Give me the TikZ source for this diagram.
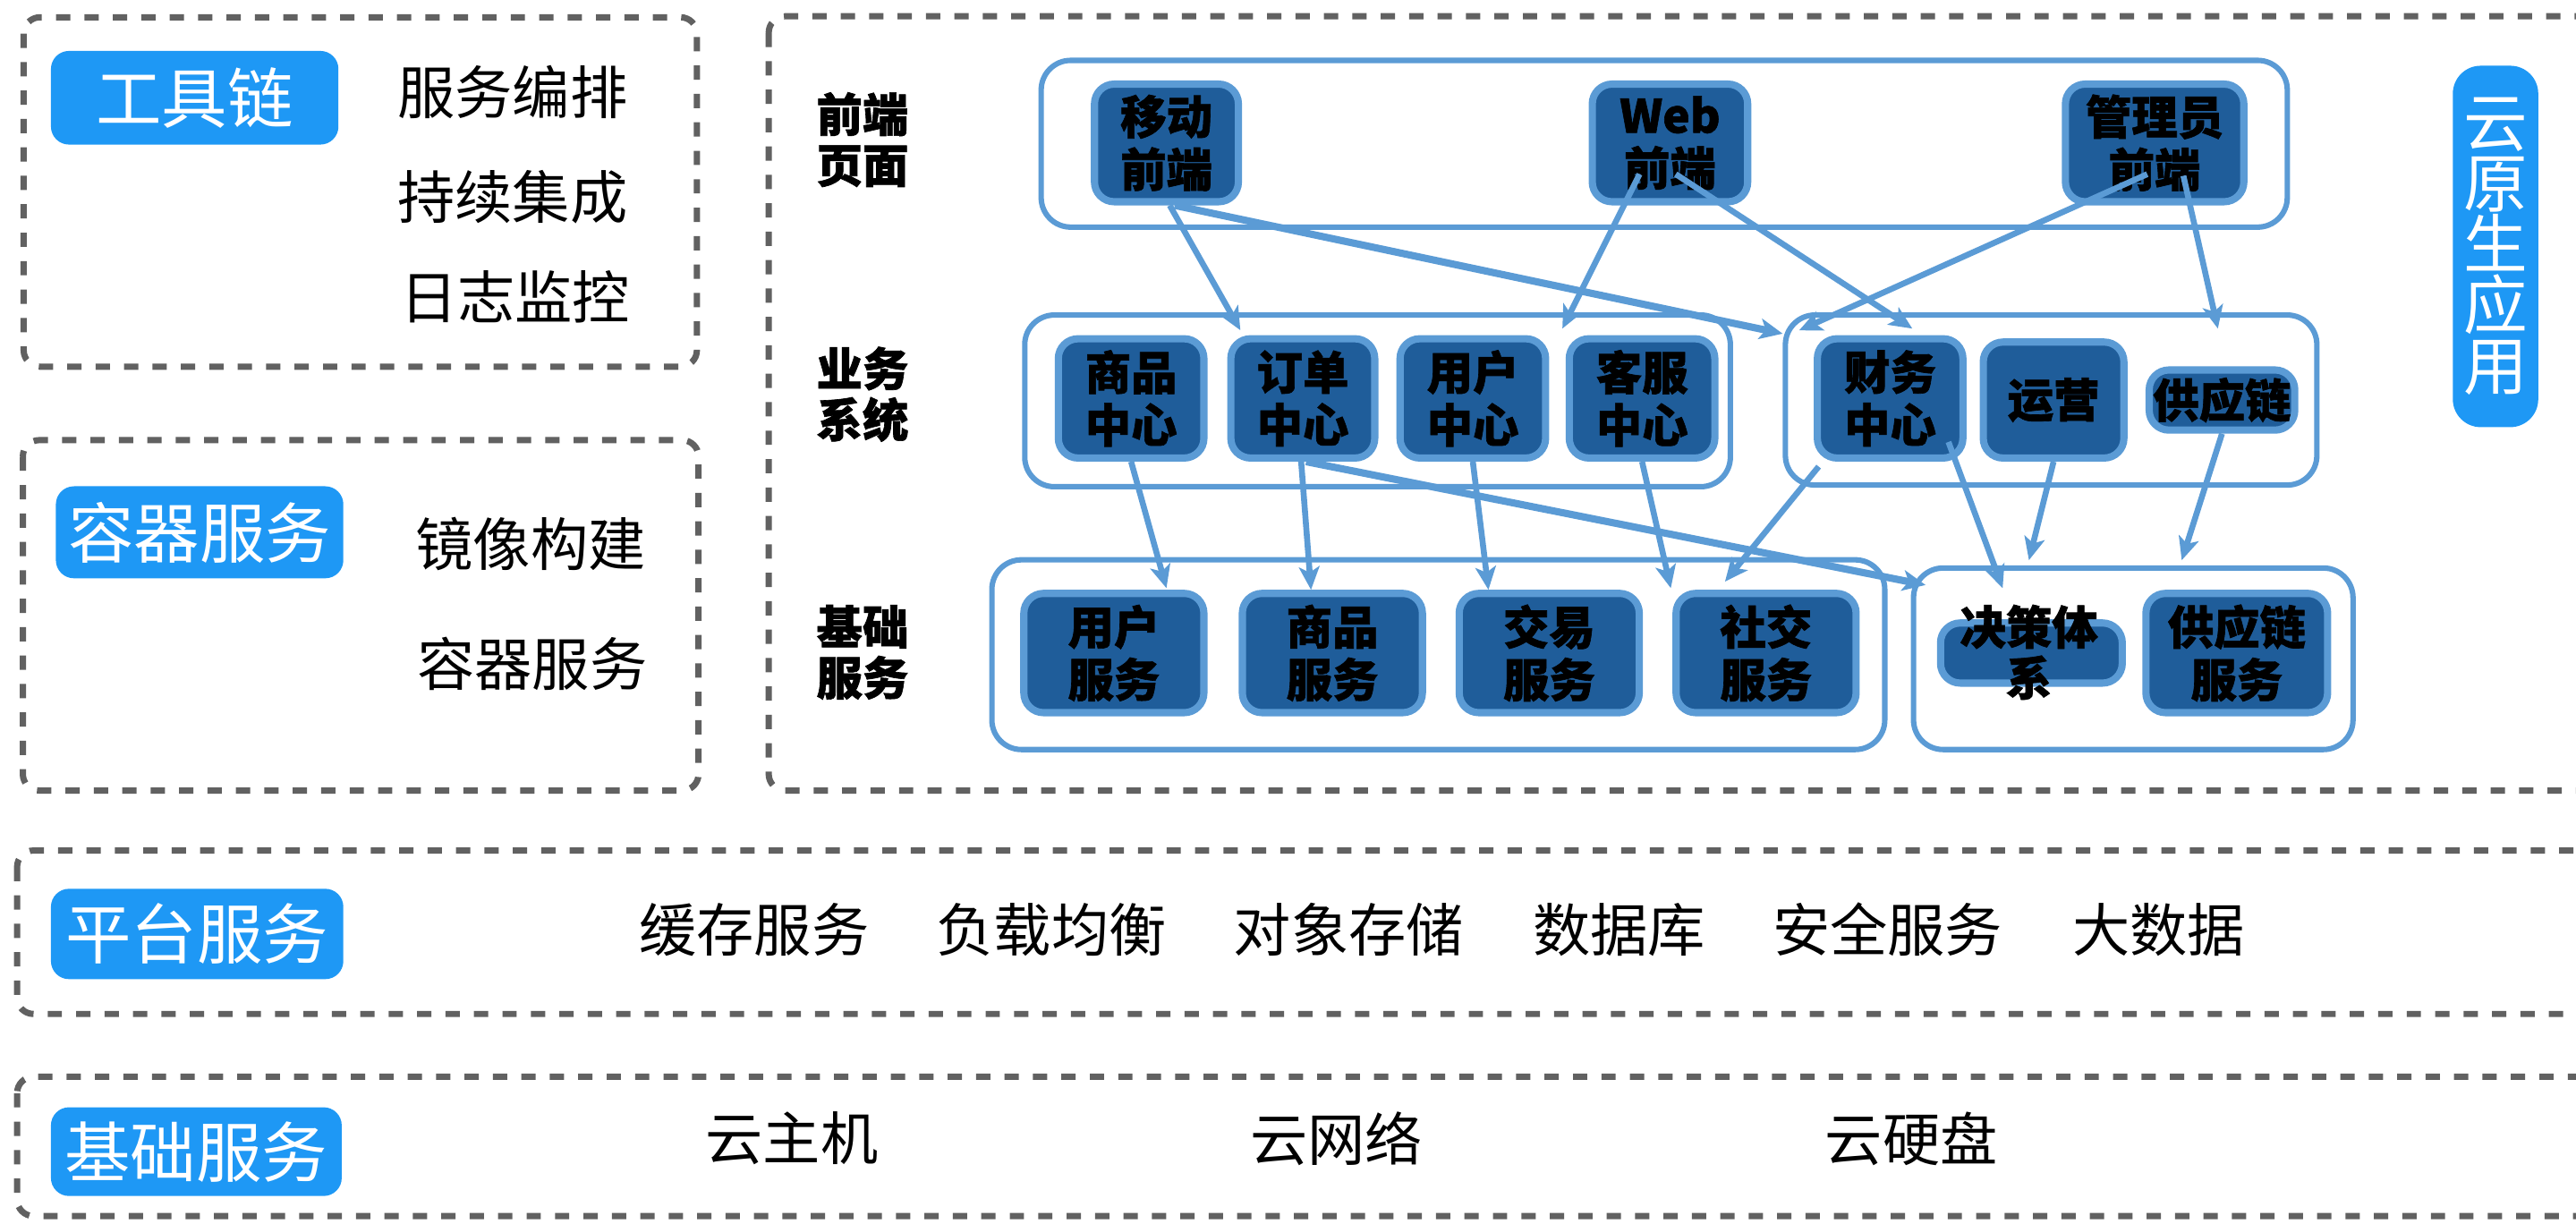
\documentclass[tikz,border=0pt]{standalone}
\usepackage{fontspec}
\setmainfont{Noto Sans CJK SC}[BoldFeatures={FakeBold=1.2}]
\usetikzlibrary{arrows.meta,calc}
\definecolor{lb}{HTML}{5B9BD5}
\definecolor{db}{HTML}{1F5D9A}
\definecolor{tagc}{HTML}{1E98F5}
\definecolor{dg}{HTML}{616161}
\tikzset{
  dbox/.style={draw=dg, line width=3.8pt, dash pattern=on 8.7pt off 8.6pt, rounded corners=10pt},
  tagbox/.style={fill=tagc, rounded corners=11pt, text=white, font=\fontsize{40}{44}\selectfont, inner sep=0pt, align=center},
  ptxt/.style={font=\fontsize{35}{40}\selectfont, inner sep=0pt},
  cont/.style={draw=lb, line width=3.3pt, rounded corners=18pt, inner sep=0pt},
  svc/.style={draw=lb, fill=db, line width=4.4pt, rounded corners=12pt, font=\bfseries\fontsize{28}{32}\selectfont, align=center, inner sep=0pt},
  rowlab/.style={font=\bfseries\fontsize{28}{31}\selectfont, align=center, inner sep=0pt},
  arr/.style={draw=lb, line width=3.6pt, -{Stealth[length=14pt,width=12.5pt,inset=3.5pt]}},
  arrt/.style={arr, line width=4.4pt},
}
\begin{document}
\begin{tikzpicture}[x=1pt,y=-1pt]
\useasboundingbox (0,0) rectangle (1568,745);
% dashed group boxes
\draw[dbox] (14.4,10.5) rectangle (424.2,223.2);
\draw[dbox] (13.9,267.9) rectangle (425.2,481.2);
\draw[dbox] (467.9,9.9) rectangle (1600,481.2);
\draw[dbox] (10.4,517.7) rectangle (1600,617.2);
\draw[dbox] (10.4,655.4) rectangle (1600,740.2);

% left tags and items
\node[tagbox, minimum width=175pt, minimum height=57pt] (t1) at (118.5,59.5) {工具链};
\node[ptxt] (a1) at (312,56) {服务编排};
\node[ptxt] (a2) at (312,120) {持续集成};
\node[ptxt] (a3) at (313.5,180.5) {日志监控};
\node[tagbox, minimum width=175pt, minimum height=56pt] (t2) at (121.5,324) {容器服务};
\node[ptxt] (b1) at (323,331) {镜像构建};
\node[ptxt] (b2) at (324,404) {容器服务};

% platform services
\node[tagbox, minimum width=178pt, minimum height=55pt] (t3) at (120,568.5) {平台服务};
\node[ptxt] (p1) at (459,566) {缓存服务};
\node[ptxt] (p2) at (640,566) {负载均衡};
\node[ptxt] (p3) at (821,566) {对象存储};
\node[ptxt] (p4) at (985.5,566) {数据库};
\node[ptxt] (p5) at (1149,566) {安全服务};
\node[ptxt] (p6) at (1314,566) {大数据};

% base services
\node[tagbox, minimum width=177pt, minimum height=54pt] (t4) at (119.5,701) {基础服务};
\node[ptxt] (q1) at (482,693) {云主机};
\node[ptxt] (q2) at (813.5,693) {云网络};
\node[ptxt] (q3) at (1163.5,693) {云硬盘};

% cloud native label
\node[tagbox, minimum width=52pt, minimum height=220pt, rounded corners=17pt, font=\fontsize{39}{37}\selectfont] (t5) at (1519,150) {云\\原\\生\\应\\用};

% row labels
\node[rowlab] (r1) at (525,85) {前端\\页面};
\node[rowlab] (r2) at (525,240) {业务\\系统};
\node[rowlab] (r3) at (525,397) {基础\\服务};

% containers
\node[cont, minimum width=758.5pt, minimum height=101.5pt] (fe) at (1013,87.5) {};
\node[cont, minimum width=429.5pt, minimum height=104.5pt] (bl) at (838.5,244) {};
\node[cont, minimum width=323.5pt, minimum height=103.5pt] (br) at (1248.5,243.5) {};
\node[cont, minimum width=543.5pt, minimum height=115.5pt] (bbl) at (875.5,398.5) {};
\node[cont, minimum width=267.5pt, minimum height=110.5pt] (bbr) at (1298.5,401) {};

% front nodes
\node[svc, minimum width=87.6pt, minimum height=71.6pt] (mob) at (710,87) {移动\\前端};
\node[svc, minimum width=94.6pt, minimum height=71.6pt] (web) at (1016.5,87) {Web\\前端};
\node[svc, minimum width=108.6pt, minimum height=71.6pt] (adm) at (1311.5,87) {管理员\\前端};
% business nodes
\node[svc, minimum width=88.6pt, minimum height=72.6pt] (sp) at (688.5,242.5) {商品\\中心};
\node[svc, minimum width=87.6pt, minimum height=72.6pt] (dd) at (793,242.5) {订单\\中心};
\node[svc, minimum width=88.6pt, minimum height=72.6pt] (yh) at (896.5,242.5) {用户\\中心};
\node[svc, minimum width=88.6pt, minimum height=72.6pt] (kf) at (999.5,242.5) {客服\\中心};
\node[svc, minimum width=88.6pt, minimum height=72.6pt] (cw) at (1150.5,242.5) {财务\\中心};
\node[svc, minimum width=85.6pt, minimum height=70.6pt] (yy) at (1250,243.5) {运营};
\node[svc, minimum width=88.6pt, minimum height=36.6pt] (gyl) at (1352.5,243.5) {供应链};
% base nodes
\node[svc, minimum width=109.6pt, minimum height=72.6pt] (yhfw) at (678,397.5) {用户\\服务};
\node[svc, minimum width=109.6pt, minimum height=72.6pt] (spfw) at (811,397.5) {商品\\服务};
\node[svc, minimum width=109.6pt, minimum height=72.6pt] (jyfw) at (943,397.5) {交易\\服务};
\node[svc, minimum width=109.6pt, minimum height=72.6pt] (sjfw) at (1075,397.5) {社交\\服务};
\node[svc, minimum width=110.6pt, minimum height=36.6pt] (jc) at (1236.5,397.5) {};
\node[rowlab] (jct) at (1235,397) {决策体\\系};
\node[svc, minimum width=110.6pt, minimum height=72.6pt] (gylfw) at (1361.5,397.5) {供应链\\服务};

% arrows front -> business
\draw[arr] ([xshift=2pt]mob.south) -- ([xshift=-38pt,yshift=3pt]dd.north);
\draw[arrt] ([xshift=5pt]mob.south) -- ([yshift=-13pt]br.north west);
\draw[arr] ([xshift=-18.5pt,yshift=-19pt]web.center) -- ([xshift=8pt,yshift=4pt]yh.north east);
\draw[arr] ([xshift=3.5pt,yshift=-19pt]web.center) -- ([xshift=13.5pt,yshift=4pt]cw.north);
\draw[arr] ([xshift=-4.5pt,yshift=-19pt]adm.center) -- ([xshift=10pt,yshift=-11pt]br.north west);
\draw[arr] ([xshift=17.5pt,yshift=-20pt]adm.center) -- ([xshift=-2.5pt,yshift=23pt]gyl.north);
% arrows business -> base
\draw[arr] (sp.south) -- ([xshift=32pt,yshift=1pt]yhfw.north);
\draw[arr] ([xshift=-1pt]dd.south) -- ([xshift=-13pt]spfw.north);
\draw[arrt] ([xshift=2pt]dd.south) -- ([xshift=9pt,yshift=-12pt]bbr.north west);
\draw[arr] (yh.south) -- ([xshift=-37pt]jyfw.north);
\draw[arr] (kf.south) -- ([xshift=-1pt,yshift=1pt]sjfw.north west);
\draw[arr] ([xshift=-43.5pt,yshift=-3pt]cw.south) -- ([xshift=-25pt,yshift=5pt]sjfw.north);
\draw[arr] ([xshift=35.5pt,yshift=12pt]cw.south) -- ([xshift=-17.5pt,yshift=19pt]jc.north);
\draw[arr] (yy.south) -- ([xshift=-1.5pt,yshift=36pt]jc.north);
\draw[arr] (gyl.south) -- ([xshift=-33.5pt,yshift=18pt]gylfw.north);
\end{tikzpicture}
\end{document}
